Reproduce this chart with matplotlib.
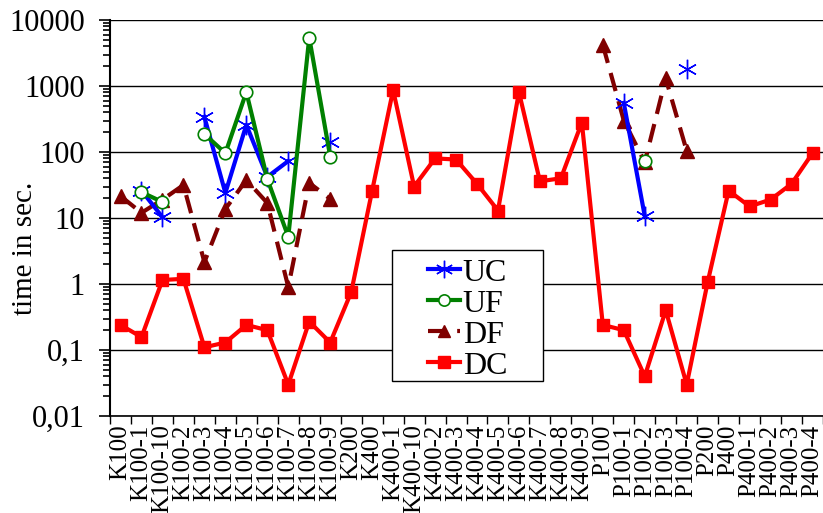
import numpy as np
import matplotlib
matplotlib.use("Agg")
import matplotlib.pyplot as plt
from matplotlib.patches import Rectangle
from matplotlib.ticker import FixedLocator, FuncFormatter, LogLocator, NullFormatter

plt.rcParams['font.family'] = ['Liberation Serif', 'DejaVu Serif']

nan = np.nan
categories = ["K100", "K100-1", "K100-10", "K100-2", "K100-3", "K100-4", "K100-5",
              "K100-6", "K100-7", "K100-8", "K100-9", "K200", "K400", "K400-1",
              "K400-10", "K400-2", "K400-3", "K400-4", "K400-5", "K400-6", "K400-7",
              "K400-8", "K400-9", "P100", "P100-1", "P100-2", "P100-3", "P100-4",
              "P200", "P400", "P400-1", "P400-2", "P400-3", "P400-4"]

uc = [nan, 26, 10.3, nan, 340, 24, 258, 42, 73, nan, 140, nan, nan, nan,
      nan, nan, nan, nan, nan, nan, nan, nan, nan, nan, 555, 10.7, nan, 1800,
      nan, nan, nan, nan, nan, nan]
uf = [nan, 24.6, 17.5, nan, 187, 96, 810, 39, 5.2, 5400, 85, nan, nan, nan,
      nan, nan, nan, nan, nan, nan, nan, nan, nan, nan, nan, 72, nan, nan,
      nan, nan, nan, nan, nan, nan]
df = [21.5, 12, 19, 31.6, 2.15, 13.7, 37.7, 16.9, 0.9, 34, 19.5, nan, nan, nan,
      nan, nan, nan, nan, nan, nan, nan, nan, nan, 4200, 300, 70, 1300, 104,
      nan, nan, nan, nan, nan, nan]
dc = [0.24, 0.157, 1.15, 1.2, 0.11, 0.13, 0.24, 0.2, 0.03, 0.27, 0.13, 0.75, 26,
      870, 30, 80, 77, 33, 13, 810, 36, 40, 280, 0.24, 0.2, 0.04, 0.4, 0.03,
      1.07, 26, 15, 19, 33, 96]

yticks = [0.01, 0.1, 1, 10, 100, 1000, 10000]
ytick_labels = ["0,01", "0,1", "1", "10", "100", "1000", "10000"]

fig = plt.figure(figsize=(8.23, 5.13), dpi=100)
ax = fig.add_axes([0.1337, 0.189, 0.8663, 0.772])

x = np.arange(len(categories))

ax.plot(x, uc, color='#0000FF', lw=3, marker=(6, 2, 0), ms=14, mew=1,
        label='UC', zorder=4)
ax.plot(x, uf, color='#008000', lw=3, marker='o', ms=9, mfc='white',
        mec='#008000', mew=1.2, label='UF', zorder=4)
ax.plot(x, df, color='#800000', lw=3, marker='^', ms=10, dashes=(4.5, 2.5),
        label='DF', zorder=3)
ax.plot(x, dc, color='#FF0000', lw=3, marker='s', ms=9, label='DC', zorder=3)

ax.set_yscale('log')
ax.set_ylim(0.01, 10000)
ax.set_xlim(-0.5, len(categories) - 0.5)

ax.yaxis.set_major_locator(FixedLocator(yticks))
ax.yaxis.set_major_formatter(FuncFormatter(lambda v, p: ytick_labels[yticks.index(v)] if v in yticks else ""))
ax.yaxis.set_minor_locator(LogLocator(base=10, subs=np.arange(2, 10)))
ax.yaxis.set_minor_formatter(NullFormatter())
ax.tick_params(axis='y', which='major', length=8, width=1.2, labelsize=22, pad=10)
ax.tick_params(axis='y', which='minor', length=5, width=1.2)

ax.set_xticks(x)
ax.set_xticklabels(categories, rotation=90, fontsize=18)
ax.set_xticks(np.arange(-0.5, len(categories)), minor=True)
ax.tick_params(axis='x', which='major', length=0, pad=6)
ax.tick_params(axis='x', which='minor', length=6, width=1)

ax.grid(True, axis='y', which='major', color='black', lw=1)
ax.set_axisbelow(True)
for s in ['top', 'right']:
    ax.spines[s].set_visible(False)
ax.spines['left'].set_linewidth(1.5)
ax.spines['bottom'].set_linewidth(1.2)

fig.text(25 / 823, 1 - 248 / 513, 'time in sec.', rotation=90, fontsize=21,
         ha='center', va='center')

box = Rectangle((0.3955, 0.0884), 0.2118, 0.3308, transform=ax.transAxes,
                facecolor='white', edgecolor='black', lw=1, zorder=5)
ax.add_patch(box)
leg = ax.legend(loc='center', bbox_to_anchor=(0.5014, 0.244), borderaxespad=0,
                fontsize=23, frameon=False, handlelength=1.0,
                handletextpad=0.1, labelspacing=0.05, borderpad=0.2, markerscale=0.9)
leg.set_zorder(6)

fig.savefig('out.png', dpi=100)
